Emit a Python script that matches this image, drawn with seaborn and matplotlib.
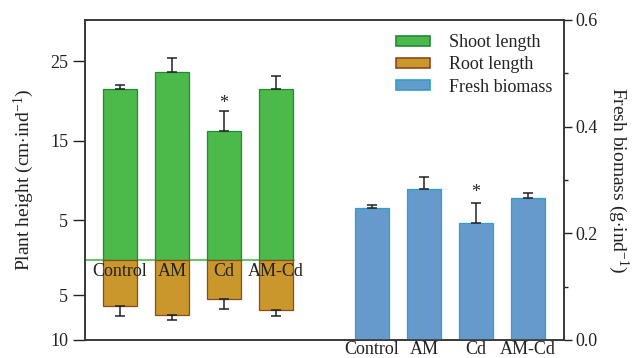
import matplotlib
matplotlib.use("Agg")
import matplotlib.pyplot as plt
import seaborn as sns
import pandas as pd
from matplotlib.patches import Patch

# ---- data ----
treatments = ["Control", "AM", "Cd", "AM-Cd"]
shoot_length = [21.5, 23.6, 16.2, 21.5]
shoot_err = [0.55, 1.8, 2.6, 1.7]
root_length = [5.75, 6.97, 4.9, 6.3]
root_err = [1.35, 0.55, 1.3, 0.7]
fresh_biomass = [0.247, 0.283, 0.219, 0.267]
biomass_err = [0.006, 0.022, 0.037, 0.009]
sig_marks = ["", "", "*", ""]
left_tick_values = [25, 15, 5, -4.4, -10.06]
left_tick_labels = ["25", "15", "5", "5", "10"]
right_ticks = [0.0, 0.2, 0.4, 0.6]
right_minor = [0.1, 0.3, 0.5]

# positions of the two groups
left_pos = [0, 1, 2, 3]
right_pos = [4.85, 5.85, 6.85, 7.85]

sns.set_theme(style="white")
plt.rcParams["font.family"] = ["Liberation Serif", "DejaVu Serif"]
plt.rcParams["mathtext.fontset"] = "custom"
plt.rcParams["mathtext.rm"] = "Liberation Serif"
plt.rcParams["mathtext.it"] = "Liberation Serif:italic"

TXT = "#222222"
G_FILL, G_EDGE = "#4cba4a", "#1f8a3a"
R_FILL, R_EDGE = "#c9972b", "#8c4a1c"
B_FILL, B_EDGE = "#6699cc", "#2aa3c0"
FS = 13

fig = plt.figure(figsize=(6.34, 3.58), dpi=100)
ax = fig.add_axes([85 / 634, 18 / 358, 479 / 634, 320 / 358])

df_left = pd.DataFrame({"pos": left_pos, "shoot": shoot_length,
                        "root": [-v for v in root_length]})
df_right = pd.DataFrame({"pos": right_pos, "biomass": fresh_biomass})

sns.barplot(data=df_left, x="pos", y="shoot", native_scale=True, width=0.65,
            color=G_FILL, saturation=1, edgecolor=G_EDGE, linewidth=0.9,
            errorbar=None, ax=ax, zorder=2)
sns.barplot(data=df_left, x="pos", y="root", native_scale=True, width=0.65,
            color=R_FILL, saturation=1, edgecolor=R_EDGE, linewidth=0.9,
            errorbar=None, ax=ax, zorder=2)

ekw = dict(fmt="none", ecolor=TXT, elinewidth=1.1, capsize=3.3, capthick=1.1, zorder=3)
ax.errorbar(left_pos, shoot_length, yerr=[[0] * 4, shoot_err], **ekw)
ax.errorbar(left_pos, [-v for v in root_length], yerr=[root_err, [0] * 4], **ekw)

ax.axhline(0, xmin=0, xmax=0.436, color=G_FILL, lw=1.2, zorder=1)

for p, v, e, m in zip(left_pos, shoot_length, shoot_err, sig_marks):
    if m:
        ax.text(p, v + e + 0.95, m, ha="center", va="center", fontsize=FS, color=TXT)
for p, t in zip(left_pos, treatments):
    ax.text(p, -1.5, t, ha="center", va="center", fontsize=FS, color=TXT, zorder=4)

ax.set_ylim(-10.06, 30.19)
ax.set_xlim(-0.67, 8.54)
ax.set_yticks(left_tick_values)
ax.set_yticklabels(left_tick_labels)
ax.tick_params(axis="y", direction="out", length=9, width=1.0, pad=3,
               labelsize=FS, labelcolor=TXT, colors=TXT, left=True)
for tl in ax.yaxis.get_major_ticks()[3:]:
    tl.tick1line.set_color(G_FILL)
ax.set_ylabel("Plant height (cm$\\cdot$ind$^{-1}$)", fontsize=FS + 1, color=TXT,
              labelpad=10)

ax2 = ax.twinx()
sns.barplot(data=df_right, x="pos", y="biomass", native_scale=True, width=0.65,
            color=B_FILL, saturation=1, edgecolor=B_EDGE, linewidth=0.9,
            errorbar=None, ax=ax2, zorder=2)
ax2.errorbar(right_pos, fresh_biomass, yerr=[[0] * 4, biomass_err], **ekw)
for p, v, e, m in zip(right_pos, fresh_biomass, biomass_err, sig_marks):
    if m:
        ax2.text(p, v + e + 0.02, m, ha="center", va="center", fontsize=FS, color=TXT)

ax2.set_ylim(0, 0.6)
ax2.set_yticks(right_ticks)
ax2.set_yticklabels([f"{t:.1f}" for t in right_ticks])
ax2.set_yticks(right_minor, minor=True)
ax2.tick_params(axis="y", which="major", direction="out", length=6, width=1.0,
                pad=2, labelsize=FS, labelcolor=TXT, colors=TXT, right=True)
ax2.tick_params(axis="y", which="minor", direction="out", length=3, width=1.0,
                colors=TXT, right=True)
ax2.set_ylabel("Fresh biomass (g$\\cdot$ind$^{-1}$)", fontsize=FS + 1, color=TXT,
               rotation=-90, labelpad=24)
ax2.yaxis.set_label_position("right")

ax.set_xlim(-0.67, 8.54)
ax2.set_xlim(-0.67, 8.54)
ax.set_xticks(right_pos)
ax.set_xticklabels(treatments)
ax.tick_params(axis="x", length=0, pad=0.5, labelsize=FS, labelcolor=TXT)
ax.set_xlabel("")
ax2.set_xlabel("")

for a in (ax, ax2):
    for s in a.spines.values():
        s.set_color("#333333")
        s.set_linewidth(1.1)
    a.grid(False)

handles = [Patch(facecolor=G_FILL, edgecolor=G_EDGE, linewidth=1.2),
           Patch(facecolor=R_FILL, edgecolor=R_EDGE, linewidth=1.2),
           Patch(facecolor=B_FILL, edgecolor=B_EDGE, linewidth=1.2)]
leg = ax2.legend(handles, ["Shoot length", "Root length", "Fresh biomass"],
                 loc="upper left", bbox_to_anchor=(0.649, 0.955), frameon=False,
                 borderaxespad=0, borderpad=0, fontsize=FS, handlelength=1.9,
                 handleheight=0.45, handletextpad=1.05, labelspacing=0.28)
for t in leg.get_texts():
    t.set_color(TXT)

fig.savefig("out.png", dpi=100)
